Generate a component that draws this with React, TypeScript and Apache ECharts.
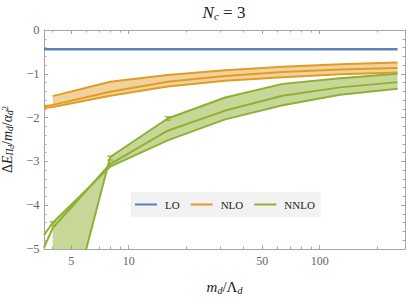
import { useEffect, useRef } from 'react';
import * as echarts from 'echarts';

// ---- data ----
const massFull = [3.6, 4, 8, 16, 32, 64, 128, 256];
const massFrom4 = [4, 8, 16, 32, 64, 128, 256];

const loValues = [-0.44, -0.44, -0.44, -0.44, -0.44, -0.44, -0.44, -0.44];

const nloUpper = [-1.51, -1.18, -1.03, -0.92, -0.84, -0.78, -0.74];
const nloCentral = [-1.74, -1.71, -1.41, -1.18, -1.05, -0.96, -0.9, -0.87];
const nloLower = [-1.78, -1.76, -1.5, -1.29, -1.16, -1.08, -1.01, -0.97];

const nnloEdgeA = [-7.94, -2.9, -2.02, -1.54, -1.23, -1.1, -1.0];
const nnloCentral = [-4.97, -4.52, -3.06, -2.3, -1.84, -1.5, -1.31, -1.19];
const nnloEdgeB = [-4.68, -4.4, -3.12, -2.52, -2.04, -1.72, -1.48, -1.34];

const nnloErrMass = [4, 8, 16];
const nnloErrLow = [-4.47, -2.97, -2.06];
const nnloErrHigh = [-4.38, -2.88, -1.98];

const xMin = 3.6;
const xMax = 280;
const xMajorTicks = [5, 10, 50, 100];
const xMinorTicks = [4, 6, 7, 8, 9, 20, 30, 40, 60, 70, 80, 90, 200];
const legendNames = ['LO', 'NLO', 'NNLO'];

// ---- styles ----
const SERIF = '"Liberation Serif", "DejaVu Serif", serif';
const C_LO = '#5E81B5';
const C_NLO = '#E19C24';
const C_NNLO = '#8FB032';
const F_NLO = 'rgba(225,156,36,0.45)';
const F_NNLO = 'rgba(143,176,50,0.5)';
const FRAME = '#a6a6a6';
const LABEL = '#666666';

// the x axis is logarithmic: positions are log10(m)
const lg = (m: number) => Math.log10(m);
const zip = (xs: number[], ys: number[]) => xs.map((x, i) => [lg(x), ys[i]]);

function bandSeries(upper: number[][], lower: number[][], fill: string) {
  const poly = upper.concat(lower.slice().reverse());
  return {
    type: 'custom',
    name: 'band',
    coordinateSystem: 'cartesian2d',
    xAxisIndex: 0,
    yAxisIndex: 0,
    clip: true,
    silent: true,
    z: 1,
    data: poly,
    encode: { x: 0, y: 1 },
    renderItem: (params: any, api: any) => {
      if (params.dataIndex !== 0) return null;
      const points = poly.map((p) => api.coord(p));
      return { type: 'polygon', shape: { points }, style: { fill, stroke: 'none' } };
    },
  };
}

function lineSeries(name: string, xs: number[], ys: number[], color: string, width = 2) {
  return {
    type: 'line',
    name,
    data: zip(xs, ys),
    xAxisIndex: 0,
    yAxisIndex: 0,
    symbol: 'none',
    clip: true,
    z: 3,
    lineStyle: { color, width },
    itemStyle: { color },
  };
}

const xAxisBase = (position: 'top' | 'bottom', ticks: number[], len: number, labels: boolean, line: boolean) => ({
  type: 'value',
  min: lg(xMin),
  max: lg(xMax),
  position,
  gridIndex: 0,
  axisLine: { show: line, onZero: false, lineStyle: { color: FRAME, width: 1 } },
  axisTick: {
    show: true,
    inside: true,
    length: len,
    customValues: ticks.map(lg),
    lineStyle: { color: FRAME, width: 1 },
  },
  axisLabel: labels
    ? {
        show: true,
        customValues: xMajorTicks.map(lg),
        color: LABEL,
        fontFamily: SERIF,
        fontSize: 12,
        margin: 6,
        formatter: (v: number) => String(Math.round(Math.pow(10, v))),
      }
    : { show: false },
  splitLine: { show: false },
  minorTick: { show: false },
});

const yAxisBase = (position: 'left' | 'right', labels: boolean) => ({
  type: 'value',
  min: -5,
  max: 0,
  interval: 1,
  position,
  gridIndex: 0,
  axisLine: { show: true, onZero: false, lineStyle: { color: FRAME, width: 1 } },
  axisTick: { show: true, inside: true, length: 4, lineStyle: { color: FRAME } },
  minorTick: { show: true, splitNumber: 5, length: 2.5, lineStyle: { color: FRAME } },
  splitLine: { show: false },
  minorSplitLine: { show: false },
  axisLabel: labels
    ? {
        show: true,
        color: LABEL,
        fontFamily: SERIF,
        fontSize: 12.5,
        margin: 4.5,
        formatter: (v: number) => (v === 0 ? '0' : '\u2212' + Math.abs(v)),
      }
    : { show: false },
});

export default function App() {
  const ref = useRef<HTMLDivElement>(null);

  useEffect(() => {
    if (!ref.current) return;
    const chart = echarts.init(ref.current, undefined, { renderer: 'svg' });

    const yAxis0: any = yAxisBase('left', true);
    yAxis0.name = '{n|\u0394}{i|E}{s|\u03A0}{ss|d}{n|/}{i|m}{s|d}{n|/}{i|\u03B1}{s|d}{sp|2}';
    yAxis0.nameLocation = 'middle';
    yAxis0.nameRotate = 90;
    yAxis0.nameGap = 18;
    yAxis0.nameTextStyle = {
      color: '#222',
      fontFamily: SERIF,
      rich: {
        n: { fontSize: 14, fontFamily: SERIF, color: '#222', lineHeight: 15 },
        i: { fontSize: 14, fontFamily: SERIF, fontStyle: 'italic', color: '#222', lineHeight: 15 },
        s: { fontSize: 9.5, fontFamily: SERIF, fontStyle: 'italic', color: '#222', lineHeight: 10, padding: [5, 0, 0, 0] },
        ss: { fontSize: 7.5, fontFamily: SERIF, fontStyle: 'italic', color: '#222', lineHeight: 8, padding: [7, 0, 0, 0] },
        sp: { fontSize: 8.5, fontFamily: SERIF, color: '#222', lineHeight: 9, padding: [0, 0, 6, 0] },
      },
    };

    const xAxis0: any = xAxisBase('bottom', xMajorTicks, 4, true, true);
    xAxis0.name = '{i|m}{s|d}{n|/\u039B}{s|d}';
    xAxis0.nameLocation = 'middle';
    xAxis0.nameGap = 29;
    xAxis0.nameTextStyle = {
      color: '#222',
      fontFamily: SERIF,
      rich: {
        n: { fontSize: 15, fontFamily: SERIF, color: '#222' },
        i: { fontSize: 15, fontFamily: SERIF, fontStyle: 'italic', color: '#222' },
        s: { fontSize: 10, fontFamily: SERIF, fontStyle: 'italic', color: '#222', padding: [7, 0, 0, 0] },
      },
    };

    const option: any = {
      animation: false,
      backgroundColor: '#ffffff',
      grid: { left: 44, right: 2, top: 30, bottom: 52, containLabel: false, outerBoundsMode: 'none' },
      graphic: [
        {
          type: 'text',
          silent: true,
          style: {
            x: 224,
            y: 12,
            align: 'center',
            verticalAlign: 'middle',
            text: '{i|N}{s|c}{n| = 3}',
            rich: {
              i: { fontSize: 17, fontFamily: SERIF, fontStyle: 'italic', fill: '#222', color: '#222' },
              s: { fontSize: 11, fontFamily: SERIF, fontStyle: 'italic', fill: '#222', color: '#222', padding: [7, 0, 0, 0] },
              n: { fontSize: 17, fontFamily: SERIF, fill: '#222', color: '#222' },
            },
          },
        },
      ],
      legend: {
        data: legendNames,
        left: 131,
        top: 192,
        orient: 'horizontal',
        backgroundColor: '#f2f2f2',
        borderWidth: 0,
        padding: [6, 6, 6, 4],
        icon: 'rect',
        itemWidth: 22,
        itemHeight: 2,
        itemGap: 11,
        selectedMode: false,
        textStyle: { fontFamily: SERIF, fontSize: 11, color: '#222', padding: [0, 0, 0, 3], lineHeight: 13 },
      },
      xAxis: [
        xAxis0,
        xAxisBase('bottom', xMinorTicks, 2.5, false, false),
        xAxisBase('top', xMajorTicks, 4, false, true),
        xAxisBase('top', xMinorTicks, 2.5, false, false),
      ],
      yAxis: [yAxis0, yAxisBase('right', false)],
      series: [
        bandSeries(zip(massFrom4, nloUpper), zip(massFull.slice(1), nloLower.slice(1)), F_NLO),
        bandSeries(zip(massFrom4, nnloEdgeA), zip(massFull.slice(1), nnloEdgeB.slice(1)), F_NNLO),
        lineSeries('LO', massFull, loValues, C_LO, 2.5),
        lineSeries('NLO', massFrom4, nloUpper, C_NLO),
        lineSeries('NLO', massFull, nloCentral, C_NLO),
        lineSeries('NLO', massFull, nloLower, C_NLO),
        lineSeries('NNLO', massFrom4, nnloEdgeA, C_NNLO),
        lineSeries('NNLO', massFull, nnloCentral, C_NNLO),
        lineSeries('NNLO', massFull, nnloEdgeB, C_NNLO),
        {
          type: 'custom',
          name: 'errors',
          coordinateSystem: 'cartesian2d',
          clip: true,
          silent: true,
          z: 4,
          data: nnloErrMass.map((m, i) => [lg(m), nnloErrLow[i], nnloErrHigh[i]]),
          encode: { x: 0, y: [1, 2] },
          renderItem: (_params: any, api: any) => {
            const lo = api.coord([api.value(0), api.value(1)]);
            const hi = api.coord([api.value(0), api.value(2)]);
            const w = 3;
            const style = { stroke: C_NNLO, lineWidth: 1.2 };
            return {
              type: 'group',
              children: [
                { type: 'line', shape: { x1: lo[0], y1: lo[1], x2: hi[0], y2: hi[1] }, style },
                { type: 'line', shape: { x1: lo[0] - w, y1: lo[1], x2: lo[0] + w, y2: lo[1] }, style },
                { type: 'line', shape: { x1: hi[0] - w, y1: hi[1], x2: hi[0] + w, y2: hi[1] }, style },
              ],
            };
          },
        },
      ],
    };

    chart.setOption(option);
    return () => chart.dispose();
  }, []);

  return <div ref={ref} style={{ width: 407, height: 301, position: 'absolute', left: 0, top: 0 }} />;
}
